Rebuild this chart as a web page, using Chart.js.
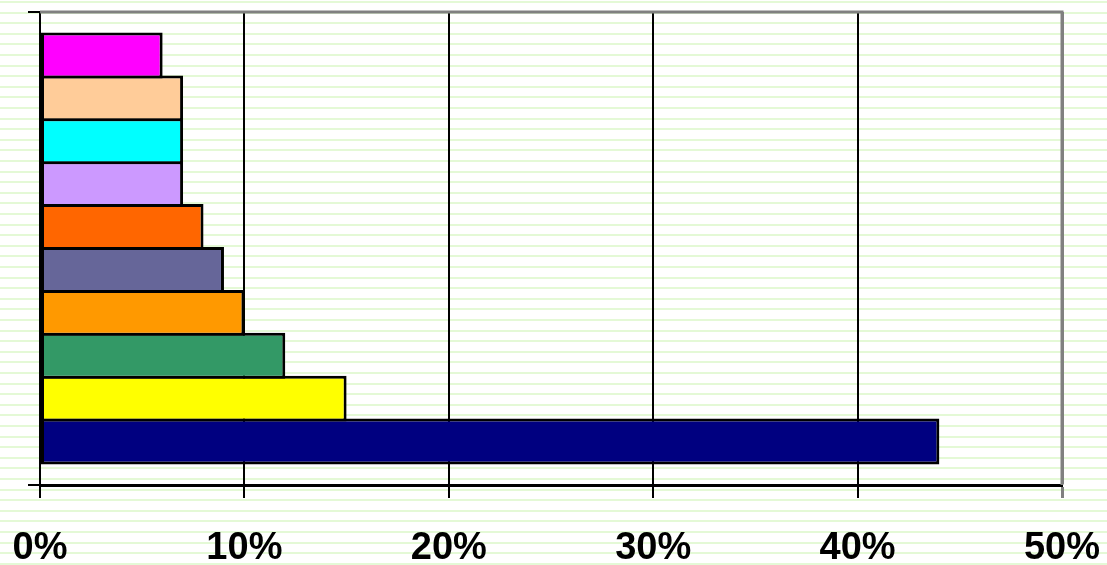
<!DOCTYPE html>
<html>
<head>
<meta charset="utf-8">
<script src="https://cdn.jsdelivr.net/npm/chart.js@4/dist/chart.umd.min.js"></script>
<style>
  html, body { margin: 0; padding: 0; background: #fff; }
  #wrap { width: 1107px; height: 565px; }
</style>
</head>
<body>
<div id="wrap"><canvas id="shareChart"></canvas></div>
<script>
// Bars listed top to bottom
const seriesNames = ['S10', 'S9', 'S8', 'S7', 'S6', 'S5', 'S4', 'S3', 'S2', 'S1'];
const seriesValues = [6, 7, 7, 7, 8, 9, 10, 12, 15, 44];
const seriesColors = ['#ff00ff', '#ffcc99', '#00ffff', '#cc99ff', '#ff6600',
                      '#666699', '#ff9900', '#339966', '#ffff00', '#000080'];
const xTicks = [0, 10, 20, 30, 40, 50];

// Striped page background
const stripes = {
    id: 'stripes',
    beforeDraw(chart) {
        const { ctx, width, height } = chart;
        ctx.save();
        ctx.fillStyle = '#ffffff';
        ctx.fillRect(0, 0, width, height);
        ctx.fillStyle = '#e4f9d6';
        for (let y = 1; y < height; y += 10.6) {
            ctx.fillRect(0, Math.round(y), width, 2);
        }
        ctx.restore();
    }
};

// Grey frame on the top and right of the plot area
const frame = {
    id: 'frame',
    beforeDatasetsDraw(chart) {
        const { ctx, chartArea: a } = chart;
        ctx.save();
        ctx.strokeStyle = '#808080';
        ctx.lineWidth = 3;
        ctx.beginPath();
        ctx.moveTo(a.left, a.top);
        ctx.lineTo(a.right, a.top);
        ctx.lineTo(a.right, a.bottom);
        ctx.stroke();
        ctx.restore();
    }
};

const datasets = seriesValues.map((v, i) => ({
    label: seriesNames[i],
    data: [v],
    backgroundColor: seriesColors[i],
    borderColor: '#000000',
    borderWidth: 3,
    borderSkipped: false,
    categoryPercentage: 0.907,
    barPercentage: 1.07
}));

new Chart(document.getElementById('shareChart'), {
    type: 'bar',
    data: { labels: [''], datasets },
    plugins: [stripes, frame],
    options: {
        indexAxis: 'y',
        responsive: true,
        maintainAspectRatio: false,
        animation: false,
        layout: { padding: { top: 12, right: 45, bottom: 0, left: 0 } },
        plugins: {
            legend: { display: false },
            tooltip: { enabled: false }
        },
        scales: {
            x: {
                type: 'linear',
                min: 0,
                max: 50,
                afterBuildTicks: s => { s.ticks = xTicks.map(v => ({ value: v })); },
                afterFit: s => {
                    s.height = 80;
                    s.paddingLeft = 0;
                    s.paddingRight = 0;
                },
                grid: {
                    color: c => (c.tick && c.tick.value === 50 ? '#808080' : '#000000'),
                    lineWidth: c => (c.tick && c.tick.value === 50 ? 3 : 2),
                    tickLength: 13
                },
                border: { color: '#000000', width: 3 },
                ticks: {
                    padding: 28,
                    color: '#000000',
                    maxRotation: 0,
                    font: { family: 'Liberation Sans', size: 38, weight: 'bold' },
                    callback: v => v + '%'
                }
            },
            y: {
                type: 'category',
                afterFit: s => { s.width = 40; },
                grid: {
                    drawOnChartArea: false,
                    color: '#000000',
                    lineWidth: 2,
                    tickLength: 12
                },
                border: { color: '#000000', width: 2 },
                ticks: { display: false }
            }
        }
    }
});
</script>
</body>
</html>
